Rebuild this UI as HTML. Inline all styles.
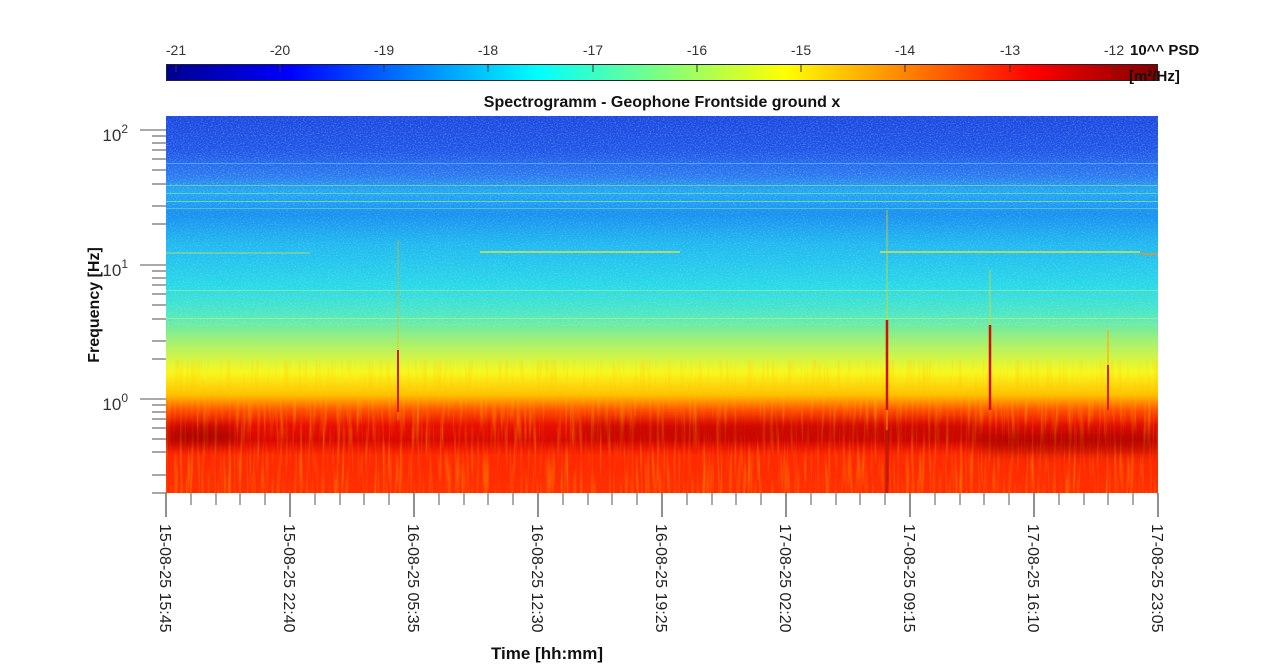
<!DOCTYPE html>
<html><head><meta charset="utf-8"><style>
html,body{margin:0;padding:0;background:#fff;}
svg{display:block;font-family:"Liberation Sans",sans-serif;}
</style></head><body>
<svg width="1280" height="664" viewBox="0 0 1280 664" xmlns="http://www.w3.org/2000/svg">
<defs>
<linearGradient id="jet" x1="0" x2="1" y1="0" y2="0">
<stop offset="0" stop-color="#00008f"/>
<stop offset="0.125" stop-color="#0000ff"/>
<stop offset="0.375" stop-color="#00ffff"/>
<stop offset="0.625" stop-color="#ffff00"/>
<stop offset="0.875" stop-color="#ff0000"/>
<stop offset="1" stop-color="#800000"/>
</linearGradient>
<linearGradient id="spec" x1="0" x2="0" y1="116" y2="493" gradientUnits="userSpaceOnUse">
<stop offset="0" stop-color="#1a48e0"/>
<stop offset="0.09" stop-color="#1e55e8"/>
<stop offset="0.16" stop-color="#2a7af0"/>
<stop offset="0.2" stop-color="#20a8f0"/>
<stop offset="0.26" stop-color="#1890f0"/>
<stop offset="0.34" stop-color="#20b8f0"/>
<stop offset="0.45" stop-color="#28d8e8"/>
<stop offset="0.53" stop-color="#50e8c0"/>
<stop offset="0.6" stop-color="#a8f070"/>
<stop offset="0.68" stop-color="#f8f820"/>
<stop offset="0.74" stop-color="#ffc000"/>
<stop offset="0.78" stop-color="#ff5000"/>
<stop offset="0.82" stop-color="#e81000"/>
<stop offset="0.86" stop-color="#d80800"/>
<stop offset="0.9" stop-color="#ff2800"/>
<stop offset="1" stop-color="#ff3000"/>
</linearGradient>
<filter id="noise" x="0" y="0" width="100%" height="100%">
<feTurbulence type="fractalNoise" baseFrequency="0.6 0.9" numOctaves="2" seed="3"/>
<feColorMatrix type="matrix" values="0 0 0 0 1  0 0 0 0 1  0 0 0 0 1  0 0 0 1.6 -0.75"/>
</filter>
<filter id="streak" x="0" y="0" width="100%" height="100%">
<feTurbulence type="fractalNoise" baseFrequency="0.35 0.02" numOctaves="2" seed="7"/>
<feColorMatrix type="matrix" values="0 0 0 0 1  0 0 0 0 0.6  0 0 0 0 0  0 0 0 1.8 -0.85"/>
</filter>
<filter id="blur" x="-20%" y="-100%" width="140%" height="300%"><feGaussianBlur stdDeviation="10 6"/></filter>
<clipPath id="pc"><rect x="166" y="116" width="992" height="377"/></clipPath>
</defs>

<!-- colorbar -->
<rect x="166.5" y="64.5" width="991" height="16" fill="url(#jet)" stroke="#222" stroke-width="1"/>
<g stroke="#333" stroke-width="1">
<line x1="176" y1="65" x2="176" y2="72"/><line x1="280" y1="65" x2="280" y2="72"/><line x1="384" y1="65" x2="384" y2="72"/><line x1="488" y1="65" x2="488" y2="72"/><line x1="593" y1="65" x2="593" y2="72"/><line x1="697" y1="65" x2="697" y2="72"/><line x1="801" y1="65" x2="801" y2="72"/><line x1="905" y1="65" x2="905" y2="72"/><line x1="1010" y1="65" x2="1010" y2="72"/><line x1="1114" y1="65" x2="1114" y2="72"/>
</g>
<g font-size="14" fill="#333" text-anchor="middle">
<text x="176" y="55">-21</text><text x="280" y="55">-20</text><text x="384" y="55">-19</text><text x="488" y="55">-18</text><text x="593" y="55">-17</text><text x="697" y="55">-16</text><text x="801" y="55">-15</text><text x="905" y="55">-14</text><text x="1010" y="55">-13</text><text x="1114" y="55">-12</text>
</g>
<text x="1130" y="55" font-size="15" font-weight="bold" fill="#111">10^^ PSD</text>
<text x="1129" y="81" font-size="15" font-weight="bold" fill="#111">[m²/Hz]</text>
<text x="662" y="107" font-size="16" font-weight="bold" fill="#111" text-anchor="middle">Spectrogramm - Geophone Frontside ground x</text>

<!-- spectrogram -->
<g clip-path="url(#pc)">
<rect x="166" y="116" width="992" height="377" fill="url(#spec)"/>
<rect x="166" y="116" width="992" height="210" filter="url(#noise)" opacity="0.35"/>
<rect x="166" y="116" width="992" height="90" fill="#0010a0" opacity="0.15" filter="url(#noise)"/>
<rect x="166" y="360" width="992" height="133" filter="url(#streak)" opacity="0.55"/>
<!-- dark band -->
<g filter="url(#blur)">
<rect x="166" y="426" width="70" height="18" fill="#900000" opacity="0.6"/>
<rect x="580" y="422" width="400" height="18" fill="#a00000" opacity="0.4"/>
<rect x="980" y="430" width="178" height="24" fill="#900000" opacity="0.45"/>
</g>
<!-- horizontal lines -->
<g stroke-width="1" opacity="0.6">
<line x1="166" x2="1158" y1="163.5" y2="163.5" stroke="#60d0ff"/>
<line x1="166" x2="1158" y1="185.5" y2="185.5" stroke="#90e8a0"/>
<line x1="166" x2="1158" y1="193.5" y2="193.5" stroke="#80e0c0"/>
<line x1="166" x2="1158" y1="201.5" y2="201.5" stroke="#a0f0a0"/>
<line x1="166" x2="1158" y1="208.5" y2="208.5" stroke="#70d8e0"/>
<line x1="166" x2="1158" y1="290.5" y2="290.5" stroke="#a0f0a0"/>
<line x1="166" x2="1158" y1="318.5" y2="318.5" stroke="#c0f080"/>
</g>
<g stroke="#e8e840" stroke-width="1.5" opacity="0.9">
<line x1="480" x2="680" y1="252" y2="252"/>
<line x1="880" x2="1140" y1="252" y2="252"/>
<line x1="166" x2="310" y1="253" y2="253" opacity="0.5"/>
<line x1="1140" x2="1158" y1="254" y2="254" stroke="#ff9000"/>
</g>
<!-- spikes -->
<g>
<line x1="398" x2="398" y1="240" y2="420" stroke="#ffb000" stroke-width="1" opacity="0.6"/>
<line x1="398" x2="398" y1="350" y2="412" stroke="#d02000" stroke-width="2"/>
<line x1="887" x2="887" y1="210" y2="493" stroke="#ffd000" stroke-width="1" opacity="0.7"/>
<line x1="887" x2="887" y1="320" y2="410" stroke="#d01000" stroke-width="2.5"/>
<line x1="887" x2="887" y1="430" y2="493" stroke="#a00000" stroke-width="3" opacity="0.7"/>
<line x1="990" x2="990" y1="270" y2="410" stroke="#ffd000" stroke-width="1" opacity="0.7"/>
<line x1="990" x2="990" y1="325" y2="410" stroke="#d01000" stroke-width="2.5"/>
<line x1="1108" x2="1108" y1="330" y2="410" stroke="#ffb000" stroke-width="1.5" opacity="0.8"/>
<line x1="1108" x2="1108" y1="365" y2="410" stroke="#e02000" stroke-width="2"/>
</g>
</g>

<!-- y axis -->
<g stroke="#777" stroke-width="1.3">
<line x1="140" x2="166" y1="130" y2="130"/><line x1="140" x2="166" y1="265" y2="265"/><line x1="140" x2="166" y1="399" y2="399"/>
<line x1="152" x2="166" y1="136" y2="136"/><line x1="152" x2="166" y1="143" y2="143"/><line x1="152" x2="166" y1="150" y2="150"/><line x1="152" x2="166" y1="159" y2="159"/><line x1="152" x2="166" y1="170" y2="170"/><line x1="152" x2="166" y1="184" y2="184"/><line x1="152" x2="166" y1="206" y2="206"/><line x1="152" x2="166" y1="224" y2="224"/>
<line x1="152" x2="166" y1="271" y2="271"/><line x1="152" x2="166" y1="278" y2="278"/><line x1="152" x2="166" y1="285" y2="285"/><line x1="152" x2="166" y1="294" y2="294"/><line x1="152" x2="166" y1="305" y2="305"/><line x1="152" x2="166" y1="319" y2="319"/><line x1="152" x2="166" y1="341" y2="341"/><line x1="152" x2="166" y1="359" y2="359"/>
<line x1="152" x2="166" y1="405" y2="405"/><line x1="152" x2="166" y1="412" y2="412"/><line x1="152" x2="166" y1="419" y2="419"/><line x1="152" x2="166" y1="428" y2="428"/><line x1="152" x2="166" y1="439" y2="439"/><line x1="152" x2="166" y1="452" y2="452"/><line x1="152" x2="166" y1="475" y2="475"/>
<line x1="152" x2="166" y1="493" y2="493"/>
</g>
<g font-size="17" fill="#333" text-anchor="end">
<text x="128" y="141">10<tspan dy="-8" font-size="12">2</tspan></text>
<text x="128" y="276">10<tspan dy="-8" font-size="12">1</tspan></text>
<text x="128" y="410">10<tspan dy="-8" font-size="12">0</tspan></text>
</g>
<text transform="translate(99,305) rotate(-90)" font-size="16" font-weight="bold" fill="#111" text-anchor="middle">Frequency [Hz]</text>

<!-- x axis -->
<g stroke="#555" stroke-width="1.3">
<line x1="166" x2="166" y1="493" y2="517"/><line x1="290" x2="290" y1="493" y2="517"/><line x1="414" x2="414" y1="493" y2="517"/><line x1="538" x2="538" y1="493" y2="517"/><line x1="662" x2="662" y1="493" y2="517"/><line x1="786" x2="786" y1="493" y2="517"/><line x1="910" x2="910" y1="493" y2="517"/><line x1="1034" x2="1034" y1="493" y2="517"/><line x1="1158" x2="1158" y1="493" y2="517"/>
</g>
<g stroke="#555" stroke-width="1">
<path d="M191 493v12M216 493v12M240 493v12M265 493v12M315 493v12M340 493v12M364 493v12M389 493v12M439 493v12M464 493v12M488 493v12M513 493v12M563 493v12M588 493v12M612 493v12M637 493v12M687 493v12M712 493v12M736 493v12M761 493v12M811 493v12M836 493v12M860 493v12M885 493v12M935 493v12M960 493v12M984 493v12M1009 493v12M1059 493v12M1084 493v12M1108 493v12M1133 493v12"/>
</g>
<g font-size="16" fill="#222">
<text transform="translate(160,524) rotate(90)">15-08-25 15:45</text>
<text transform="translate(284,524) rotate(90)">15-08-25 22:40</text>
<text transform="translate(408,524) rotate(90)">16-08-25 05:35</text>
<text transform="translate(532,524) rotate(90)">16-08-25 12:30</text>
<text transform="translate(656,524) rotate(90)">16-08-25 19:25</text>
<text transform="translate(780,524) rotate(90)">17-08-25 02:20</text>
<text transform="translate(904,524) rotate(90)">17-08-25 09:15</text>
<text transform="translate(1028,524) rotate(90)">17-08-25 16:10</text>
<text transform="translate(1152,524) rotate(90)">17-08-25 23:05</text>
</g>
<text x="547" y="659" font-size="17" font-weight="bold" fill="#111" text-anchor="middle">Time [hh:mm]</text>
</svg>
</body></html>
